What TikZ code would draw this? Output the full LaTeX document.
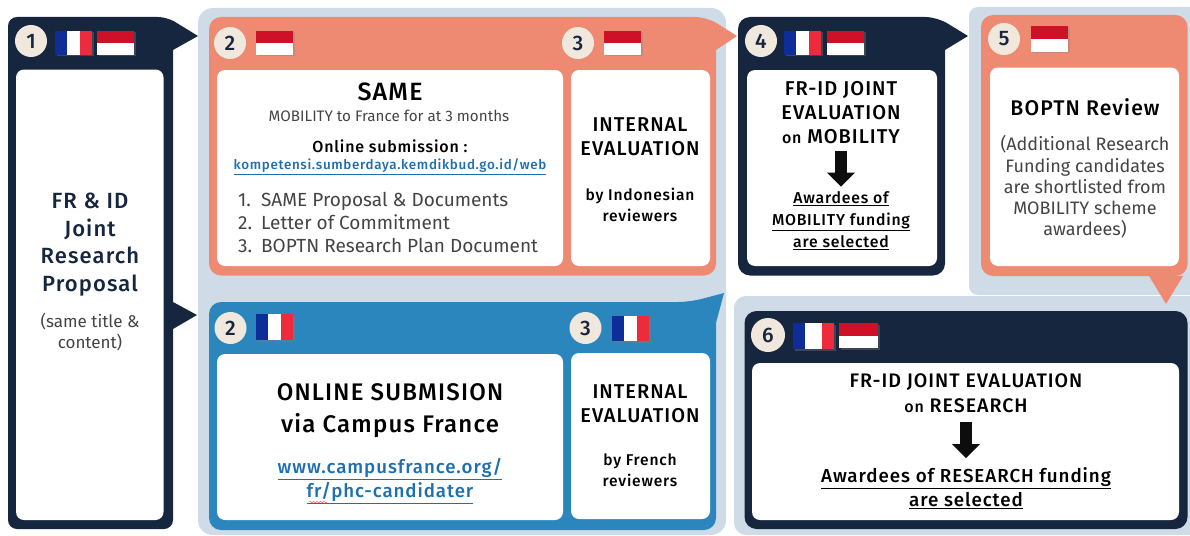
\documentclass[tikz,border=0pt]{standalone}
\usepackage{fontspec}
\setmainfont{Fira Sans}[BoldFont={Fira Sans Medium},BoldFeatures={LetterSpace=5}]
\usetikzlibrary{arrows.meta,shadows,decorations.pathmorphing}
\definecolor{navy}{HTML}{16263F}
\definecolor{salmon}{HTML}{EE8A72}
\definecolor{seablue}{HTML}{2B86BD}
\definecolor{pale}{HTML}{CFDCE7}
\definecolor{cream}{HTML}{F0E7DD}
\definecolor{linkblue}{HTML}{1F6FB0}
\definecolor{frblue}{HTML}{0F2D99}
\definecolor{frred}{HTML}{EE2B3C}
\definecolor{idred}{HTML}{CE1126}
\definecolor{bodygrey}{HTML}{444444}
\newcommand{\fs}[2]{\fontsize{#1}{#2}\selectfont}
\tikzset{
  card/.style     = {shape=rectangle, rounded corners=8pt, fill=white,
                     anchor=north west, inner sep=0pt, outer sep=0pt},
  badge/.style    = {shape=circle, fill=cream, text=navy, inner sep=0pt,
                     minimum size=32pt, font=\bfseries\fs{21}{21}},
  flagbox/.style  = {shape=rectangle, inner sep=0pt, outer sep=0pt,
                     anchor=north west, minimum width=37pt, minimum height=24pt,
                     drop shadow={shadow xshift=1.5pt, shadow yshift=-1.5pt, opacity=.35}},
  flagfr/.style   = {flagbox, path picture={
                       \fill[white] (path picture bounding box.south west) rectangle (path picture bounding box.north east);
                       \fill[frblue] (path picture bounding box.south west) rectangle ([xshift=12.3pt]path picture bounding box.north west);
                       \fill[frred] ([xshift=-12.3pt]path picture bounding box.south east) rectangle (path picture bounding box.north east);}},
  flagid/.style   = {flagbox, path picture={
                       \fill[white] (path picture bounding box.south west) rectangle (path picture bounding box.north east);
                       \fill[idred] (path picture bounding box.west) rectangle (path picture bounding box.north east);}},
  txt/.style      = {align=center, inner sep=0pt, text=black},
  title/.style    = {txt, font=\bfseries\fs{20}{24}},
  plain/.style    = {txt, font=\fs{18}{21.3}, text=bodygrey},
  small/.style    = {txt, font=\bfseries\fs{15.6}{21}},
  award/.style    = {txt, font=\bfseries\fs{15.8}{22}},
  weblink/.style  = {txt, font=\bfseries, text=linkblue},
  bigarrow/.style = {line width=12pt, black!95, -{Triangle[width=27pt,length=14pt]}}
}
\begin{document}
\begin{tikzpicture}[x=1pt,y=-1pt]
    \useasboundingbox (0,0) rectangle (1190,535);

    % pale backgrounds
    \fill[pale, rounded corners=15pt] (198,8) rectangle (726,535);
    \fill[pale] (1190,7) [rounded corners=9pt] -- (969,7) -- (969,295) [sharp corners] -- (1190,295) -- cycle;
    \fill[pale] (1190,296) [rounded corners=12pt] -- (734,296) -- (734,535) [sharp corners] -- (1190,535) -- cycle;

    % panels with their pointers
    \fill[navy] (8,100) [rounded corners=9pt] -- (8,17) -- (167,17) [sharp corners] -- (198,36) -- (173,50)
        -- (173,302) -- (197,315) -- (173,329) -- (173,400) [rounded corners=9pt] -- (173,529) -- (8,529) -- cycle;
    \fill[salmon] (209,100) [rounded corners=12pt] -- (209,17) -- (707,17) [sharp corners] -- (737,36) -- (716,50)
        -- (716,100) [rounded corners=12pt] -- (716,275.5) -- (209,275.5) -- cycle;
    \fill[seablue] (209,400) [rounded corners=12pt] -- (209,302) -- (690,302) [sharp corners] -- (724,293) -- (716,323)
        -- (716,400) [rounded corners=12pt] -- (716,530) -- (209,530) -- cycle;
    \fill[navy] (738,100) [rounded corners=12pt] -- (738,17) -- (937,17) [sharp corners] -- (968,36) -- (945,50)
        -- (945,100) [rounded corners=12pt] -- (945,275.5) -- (738,275.5) -- cycle;
    \fill[salmon] (981,100) [rounded corners=12pt] -- (981,15) -- (1187.5,15) -- (1187.5,276) [sharp corners] -- (1183,276)
        -- (1166,304) -- (1149,276) [rounded corners=12pt] -- (981,276) -- cycle;
    \fill[navy, rounded corners=12pt] (744.5,311) rectangle (1187.5,529);

    % white cards
    \node[card, minimum width=147.5pt, minimum height=450.5pt] (card1) at (16,69.5) {};
    \node[card, minimum width=346pt, minimum height=196pt] (cardsame) at (217,70) {};
    \node[card, minimum width=139pt, minimum height=196pt] (cardintid) at (571,70) {};
    \node[card, minimum width=346pt, minimum height=166pt] (cardcampus) at (217,354) {};
    \node[card, minimum width=139pt, minimum height=166pt] (cardintfr) at (571,353) {};
    \node[card, minimum width=190pt, minimum height=196pt] (cardmob) at (747,70) {};
    \node[card, minimum width=189pt, minimum height=198.5pt] (cardbop) at (990,67.5) {};
    \node[card, minimum width=427pt, minimum height=157pt] (cardres) at (752,363) {};

    % badges
    \node[badge] (b1) at (31,41) {1};
    \node[badge] (b2id) at (230,43) {2};
    \node[badge] (b3id) at (578,43) {3};
    \node[badge] (b4) at (761,41) {4};
    \node[badge] (b5) at (1004,39) {5};
    \node[badge] (b2fr) at (230.5,328) {2};
    \node[badge] (b3fr) at (585.5,328) {3};
    \node[badge, minimum size=34pt] (b6) at (768,335) {6};

    % flags
    \node[flagfr] (f1fr) at (55,31) {};
    \node[flagid] (f1id) at (97,31) {};
    \node[flagid] (f2id) at (256,31) {};
    \node[flagid] (f3id) at (604,31) {};
    \node[flagfr] (f4fr) at (784,31) {};
    \node[flagid] (f4id) at (827,31) {};
    \node[flagid, minimum height=26pt] (f5id) at (1031,26) {};
    \node[flagfr, minimum height=26pt] (f2fr) at (256,314) {};
    \node[flagfr, minimum height=25pt] (f3fr) at (612,316) {};
    \node[flagfr, minimum width=41pt, minimum height=26pt] (f6fr) at (793,323) {};
    \node[flagid, minimum width=39pt, minimum height=25pt] (f6id) at (839,323) {};

    % step 1
    \node[title, text=navy, font=\bfseries\fs{22}{27.7}] (proposal) at (90,244.5) {FR \& ID\\Joint\\Research\\Proposal};
    \node[plain, font=\fs{17}{21}] (sametitle) at (90,332) {(same title \&\\content)};

    % step 2, Indonesia
    \node[txt, font=\bfseries\fs{25}{25}] (same) at (390,92) {SAME};
    \node[plain, font=\fs{15.2}{16}] (mobility) at (389,116) {MOBILITY to France for at 3 months};
    \node[small, font=\bfseries\fs{16}{21}] (online) at (390,146) {Online submission :};
    \node[weblink, font=\bfseries\fs{13.4}{16}] (linkkemdik) at (390,167) {\underline{kompetensi.sumberdaya.kemdikbud.go.id/web}};
    \node[plain, align=left, anchor=west, font=\fs{19}{23}] (doclist) at (238,222) {\makebox[23pt][l]{1.}SAME Proposal \& Documents\\\makebox[23pt][l]{2.}Letter of Commitment\\\makebox[23pt][l]{3.}BOPTN Research Plan Document};

    % step 3, Indonesia
    \node[title] (intid) at (640,137) {INTERNAL\\EVALUATION};
    \node[small] (byid) at (640,204.5) {by Indonesian\\reviewers};

    % step 2, France
    \node[txt, font=\bfseries\fs{24}{32}] (campus) at (390,411) {ONLINE SUBMISION\\via Campus France};
    \node[weblink, font=\bfseries\fs{18.7}{24}] (linkcampus) at (390,481) {\underline{www.campusfrance.org/}\\\underline{fr/phc-candidater}};
    \draw[red!70, decorate, decoration={snake, amplitude=.8pt, segment length=3.5pt}] (309,502) -- (327,502);

    % step 3, France
    \node[title] (intfr) at (640,403.5) {INTERNAL\\EVALUATION};
    \node[small] (byfr) at (640,470.5) {by French\\reviewers};

    % step 4
    \node[title] (evalmob) at (841,113) {FR-ID JOINT\\EVALUATION\\{\fs{16}{24}on} MOBILITY};
    \node[award] (awardmob) at (841,221) {\underline{Awardees of}\\\underline{MOBILITY funding}\\\underline{are selected}};
    \draw[bigarrow, shorten <=7pt, shorten >=5pt] (evalmob.south) -- (awardmob.north);

    % step 5
    \node[txt, font=\bfseries\fs{21.2}{22}] (bopreview) at (1085,107) {BOPTN Review};
    \node[plain] (bopnote) at (1085,187) {(Additional Research\\Funding candidates\\are shortlisted from\\MOBILITY scheme\\awardees)};

    % step 6
    \node[title, font=\bfseries\fs{19.6}{25}] (evalres) at (966,393.5) {FR-ID JOINT EVALUATION\\{\fs{16}{24}on} RESEARCH};
    \node[award, font=\bfseries\fs{18.8}{24}] (awardres) at (966,488) {\underline{Awardees of RESEARCH funding}\\\underline{are selected}};
    \draw[bigarrow, shorten <=9pt, shorten >=9pt] (evalres.south) -- (awardres.north);
\end{tikzpicture}
\end{document}
